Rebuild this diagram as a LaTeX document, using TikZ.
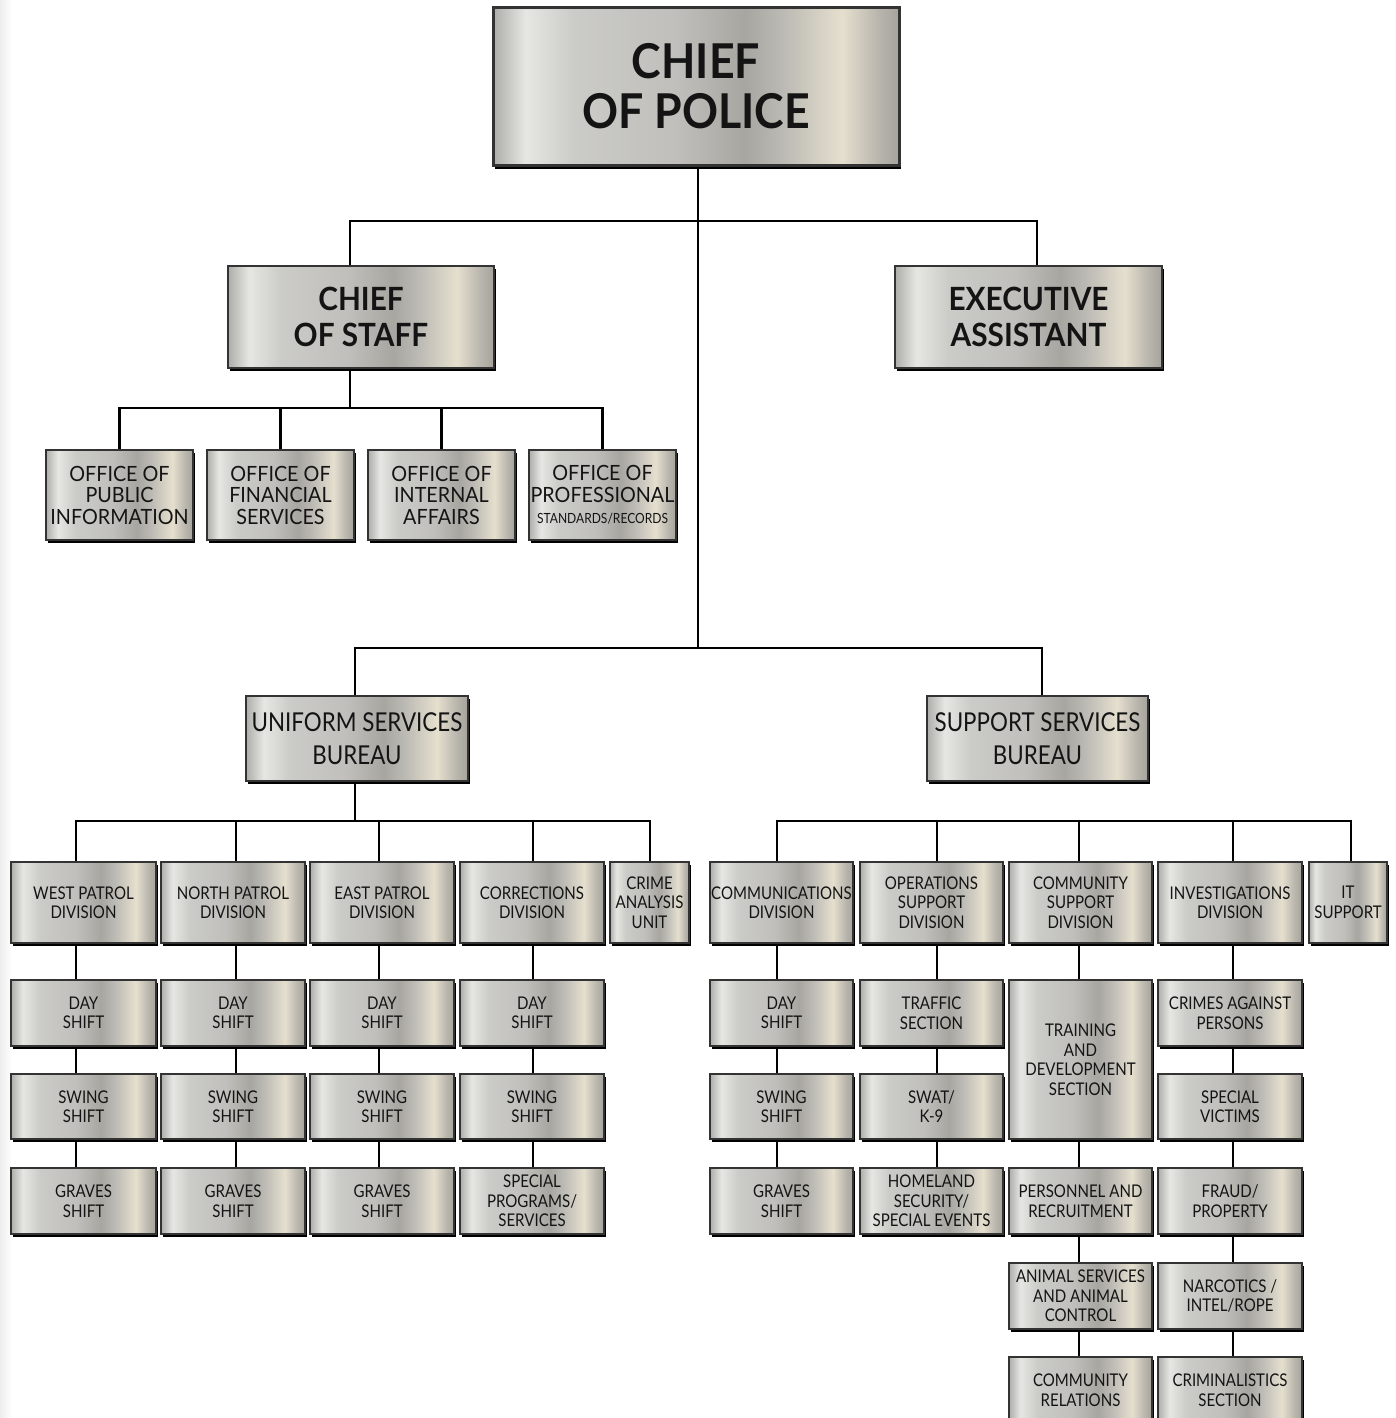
\documentclass[tikz,border=0pt]{standalone}
\usepackage{fontspec}
\setmainfont{Lato}[FakeStretch=0.86]
\newfontfamily\titlefont{Lato}[FakeStretch=0.93]
\newfontfamily\officefont{Lato}[FakeStretch=0.94]
\usetikzlibrary{shadows,backgrounds}
\definecolor{mA}{HTML}{ADADA9}
\definecolor{mB}{HTML}{E6E6E2}
\definecolor{mC}{HTML}{CBCBC7}
\definecolor{mD}{HTML}{C0BFBB}
\definecolor{mE}{HTML}{A8A6A1}
\definecolor{mF}{HTML}{BDBBB5}
\definecolor{mG}{HTML}{E5DFCE}
\definecolor{mH}{HTML}{B8B5AD}
\definecolor{mI}{HTML}{A6A39C}
\pgfdeclarehorizontalshading{metal}{100bp}{color(0bp)=(mA); color(25bp)=(mA); color(29bp)=(mB); color(35bp)=(mC); color(47.5bp)=(mD); color(56bp)=(mE); color(61bp)=(mF); color(68bp)=(mG); color(72.5bp)=(mH); color(75bp)=(mI); color(100bp)=(mI)}
\newcommand{\myfsmall}{\fontsize{17.5}{19.5}\selectfont}
\newcommand{\myfoffice}{\officefont\fontsize{21}{21.5}\selectfont}
\newcommand{\myfbureau}{\fontsize{26}{32.5}\selectfont}
\newcommand{\myfstaff}{\titlefont\bfseries\fontsize{32}{36}\selectfont}
\newcommand{\myfchief}{\titlefont\bfseries\fontsize{48}{50}\selectfont}
\tikzset{
  plate/.style 2 args={draw=black!80, line width=1.2pt, shade, shading=metal,
    general shadow={fill=black, shadow xshift=1.8pt, shadow yshift=-2.8pt},
    align=center, inner sep=0pt, text=black!92, font=\myfsmall,
    minimum width=#1pt, minimum height=#2pt},
  conn/.style={draw=black, line width=2.6pt, line join=miter}
}
\begin{document}
\begin{tikzpicture}[x=1pt,y=-1pt]
\path[use as bounding box] (0,0) rectangle (1395,1418);
\clip (0,0) rectangle (1395,1418);
\shade[left color=black!7, right color=white] (0,0) rectangle (12,1418);

% top level
\node[plate={406}{157}, line width=3pt, general shadow={fill=black, shadow xshift=2pt, shadow yshift=-4pt}, font=\myfchief] (cop) at (696,86.5) {CHIEF\\OF POLICE};
\node[plate={266}{102}, line width=2pt, font=\myfstaff] (cos) at (361,317) {CHIEF\\OF STAFF};
\node[plate={267}{102}, line width=2pt, font=\myfstaff] (ea) at (1028.5,317) {EXECUTIVE\\ASSISTANT};

% offices
\node[plate={147}{90}, font=\myfoffice] (opi) at (119.5,495) {OFFICE OF\\PUBLIC\\INFORMATION};
\node[plate={147}{90}, font=\myfoffice] (ofs) at (280.5,495) {OFFICE OF\\FINANCIAL\\SERVICES};
\node[plate={147}{90}, font=\myfoffice] (oia) at (441.5,495) {OFFICE OF\\INTERNAL\\AFFAIRS};
\node[plate={147}{90}, font=\myfoffice] (opr) at (602.5,495) {OFFICE OF\\PROFESSIONAL\\{\normalfont\fontsize{14}{16}\selectfont STANDARDS/RECORDS}};

% bureaus
\node[plate={222}{85}, line width=1.6pt, font=\myfbureau] (usb) at (357,738.5) {UNIFORM SERVICES\\BUREAU};
\node[plate={221}{85}, line width=1.6pt, font=\myfbureau] (ssb) at (1037.5,738.5) {SUPPORT SERVICES\\BUREAU};

% uniform divisions
\node[plate={145}{81}] (wpd) at (83.5,902.5) {WEST PATROL\\DIVISION};
\node[plate={144}{81}] (npd) at (233,902.5) {NORTH PATROL\\DIVISION};
\node[plate={144}{81}] (epd) at (382,902.5) {EAST PATROL\\DIVISION};
\node[plate={144}{81}] (cor) at (532,902.5) {CORRECTIONS\\DIVISION};
\node[plate={79}{81}] (cau) at (649.5,902.5) {CRIME\\ANALYSIS\\UNIT};

\node[plate={145}{66}] (d1) at (83.5,1013) {DAY\\SHIFT};
\node[plate={144}{66}] (d2) at (233,1013) {DAY\\SHIFT};
\node[plate={144}{66}] (d3) at (382,1013) {DAY\\SHIFT};
\node[plate={144}{66}] (d4) at (532,1013) {DAY\\SHIFT};
\node[plate={145}{65}] (w1) at (83.5,1106.5) {SWING\\SHIFT};
\node[plate={144}{65}] (w2) at (233,1106.5) {SWING\\SHIFT};
\node[plate={144}{65}] (w3) at (382,1106.5) {SWING\\SHIFT};
\node[plate={144}{65}] (w4) at (532,1106.5) {SWING\\SHIFT};
\node[plate={145}{66}] (g1) at (83.5,1201) {GRAVES\\SHIFT};
\node[plate={144}{66}] (g2) at (233,1201) {GRAVES\\SHIFT};
\node[plate={144}{66}] (g3) at (382,1201) {GRAVES\\SHIFT};
\node[plate={144}{66}] (spp) at (532,1201) {SPECIAL\\PROGRAMS/\\SERVICES};

% support divisions
\node[plate={143}{81}] (cmd) at (781.5,902.5) {COMMUNICATIONS\\DIVISION};
\node[plate={143}{81}] (osd) at (931.5,902.5) {OPERATIONS\\SUPPORT\\DIVISION};
\node[plate={143}{81}] (csd) at (1080.5,902.5) {COMMUNITY\\SUPPORT\\DIVISION};
\node[plate={144}{81}] (ivd) at (1230,902.5) {INVESTIGATIONS\\DIVISION};
\node[plate={78}{81}] (its) at (1348,902.5) {IT\\SUPPORT};

\node[plate={143}{66}] (sd) at (781.5,1013) {DAY\\SHIFT};
\node[plate={143}{65}] (sw) at (781.5,1106.5) {SWING\\SHIFT};
\node[plate={143}{66}] (sg) at (781.5,1201) {GRAVES\\SHIFT};

\node[plate={143}{66}] (tra) at (931.5,1013) {TRAFFIC\\SECTION};
\node[plate={143}{65}] (swat) at (931.5,1106.5) {SWAT/\\K-9};
\node[plate={143}{66}] (hom) at (931.5,1201) {HOMELAND\\SECURITY/\\SPECIAL EVENTS};

\node[plate={143}{159}] (trn) at (1080.5,1059.5) {TRAINING\\AND\\DEVELOPMENT\\SECTION};
\node[plate={143}{66}] (per) at (1080.5,1201) {PERSONNEL AND\\RECRUITMENT};
\node[plate={143}{66}] (ani) at (1080.5,1296) {ANIMAL SERVICES\\AND ANIMAL\\CONTROL};
\node[plate={143}{66}] (cre) at (1080.5,1390) {COMMUNITY\\RELATIONS};

\node[plate={144}{66}] (cap) at (1230,1013) {CRIMES AGAINST\\PERSONS};
\node[plate={144}{65}] (spv) at (1230,1106.5) {SPECIAL\\VICTIMS};
\node[plate={144}{66}] (frd) at (1230,1201) {FRAUD/\\PROPERTY};
\node[plate={144}{66}] (nar) at (1230,1296) {NARCOTICS /\\INTEL/ROPE};
\node[plate={144}{66}] (crs) at (1230,1390) {CRIMINALISTICS\\SECTION};

% junction coordinates
\coordinate (j0) at (698,221);
\coordinate (j1) at (698,648);
\coordinate (kcos) at (350,221);
\coordinate (kea) at (1037,221);
\coordinate (s0) at (350,408);
\coordinate (ub) at (355,821);
\coordinate (sb) at (1042,648);
\coordinate (u1) at (76,821);
\coordinate (u2) at (236,821);
\coordinate (u3) at (379,821);
\coordinate (u4) at (533,821);
\coordinate (u5) at (650,821);
\coordinate (v1) at (777,821);
\coordinate (v2) at (937,821);
\coordinate (v3) at (1079,821);
\coordinate (v4) at (1233,821);
\coordinate (v5) at (1351,821);

\begin{scope}[on background layer]
\draw[conn] (cop.south -| j0) -- (j1);
\draw[conn] (kcos |- cos.north) |- (kea) -- (kea |- ea.north);
\draw[conn] (cos.south -| s0) -- (s0);
\draw[conn] (opi.north) |- (opr.north |- s0) -- (opr.north);
\draw[conn] (ofs.north) -- (ofs.north |- s0);
\draw[conn] (oia.north) -- (oia.north |- s0);
\draw[conn] (usb.north -| ub) |- (sb) -- (ssb.north -| sb);
\draw[conn] (usb.south -| ub) -- (ub);
\draw[conn] (u1 |- wpd.north) |- (u5) -- (u5 |- cau.north);
\draw[conn] (u1) -- (u1 |- g1.north);
\draw[conn] (u2) -- (u2 |- g2.north);
\draw[conn] (u3) -- (u3 |- g3.north);
\draw[conn] (u4) -- (u4 |- spp.north);
\draw[conn] (v1 |- cmd.north) |- (v5) -- (v5 |- its.north);
\draw[conn] (v1) -- (v1 |- sg.north);
\draw[conn] (v2) -- (v2 |- hom.north);
\draw[conn] (v3) -- (v3 |- cre.north);
\draw[conn] (v4) -- (v4 |- crs.north);
\end{scope}
\end{tikzpicture}
\end{document}
